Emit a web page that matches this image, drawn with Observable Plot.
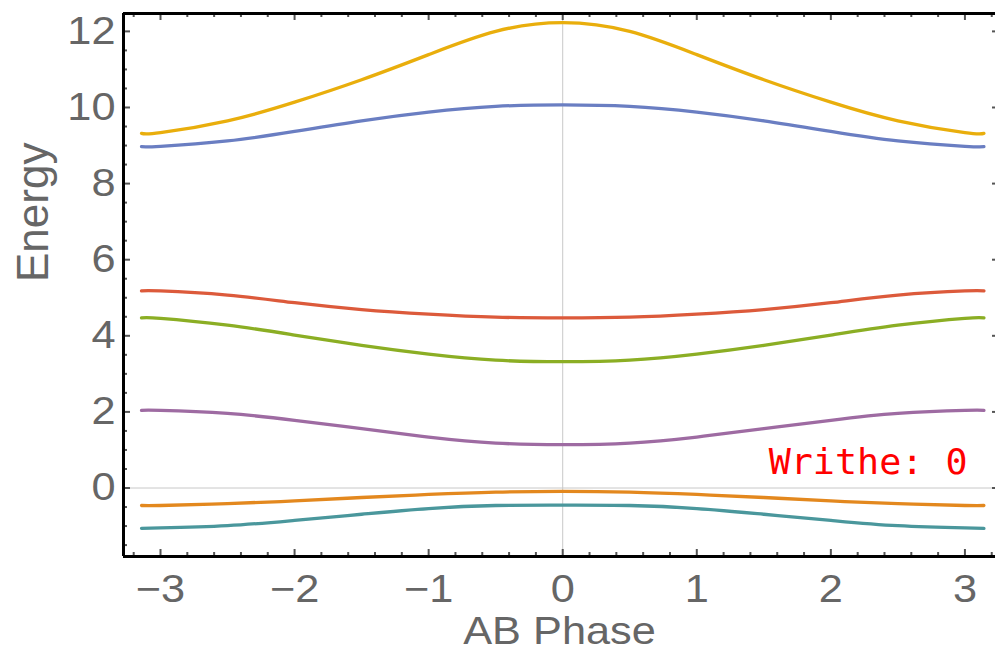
<!DOCTYPE html>
<html>
<head>
<meta charset="utf-8">
<script src="https://cdn.jsdelivr.net/npm/d3@7"></script>
<script src="https://cdn.jsdelivr.net/npm/@observablehq/plot@0.6"></script>
<style>
  html, body { margin: 0; padding: 0; background: #fff; }
  #chart svg { display: block; }
</style>
</head>
<body>
<div id="chart"></div>
<script>
// ---- data ----
const phase = [-3.1416, -3, -2.5, -2, -1.5, -1, -0.5, 0, 0.5, 1, 1.5, 2, 2.5, 3, 3.1416];
const bandYellow = [9.32, 9.34, 9.65, 10.14, 10.73, 11.39, 12.0, 12.23, 12.0, 11.39, 10.73, 10.14, 9.65, 9.34, 9.32];
const bandBlue   = [8.97, 8.98, 9.12, 9.37, 9.65, 9.88, 10.03, 10.07, 10.03, 9.88, 9.65, 9.37, 9.12, 8.98, 8.97];
const bandRed    = [5.18, 5.18, 5.07, 4.87, 4.69, 4.57, 4.49, 4.47, 4.49, 4.57, 4.69, 4.87, 5.07, 5.18, 5.18];
const bandGreen  = [4.47, 4.46, 4.28, 4.02, 3.75, 3.52, 3.36, 3.32, 3.36, 3.52, 3.75, 4.02, 4.28, 4.46, 4.47];
const bandPurple = [2.04, 2.04, 1.96, 1.78, 1.56, 1.34, 1.18, 1.14, 1.18, 1.34, 1.56, 1.78, 1.96, 2.04, 2.04];
const bandOrange = [-0.46, -0.46, -0.41, -0.34, -0.25, -0.17, -0.11, -0.09, -0.11, -0.17, -0.25, -0.34, -0.41, -0.46, -0.46];
const bandTeal   = [-1.06, -1.05, -0.99, -0.85, -0.69, -0.54, -0.46, -0.45, -0.46, -0.54, -0.69, -0.85, -0.99, -1.05, -1.06];

const seriesNames  = ["band 1", "band 2", "band 3", "band 4", "band 5", "band 6", "band 7"];
const seriesValues = [bandTeal, bandOrange, bandPurple, bandGreen, bandRed, bandBlue, bandYellow];
const seriesColors = ["#4A979C", "#E3881E", "#9E6BA2", "#8BAE24", "#DC5A3B", "#6A7EC2", "#E9AE0C"];

const xTicks = [-3, -2, -1, 0, 1, 2, 3];
const yTicks = [0, 2, 4, 6, 8, 10, 12];
const xMinor = d3.range(-16, 17).filter(i => i % 5 !== 0).map(i => i / 5);
const yMinor = d3.range(-3, 25).filter(i => i % 4 !== 0).map(i => i / 2);

const xDomain = [-3.276, 3.228];
const yDomain = [-1.8, 12.47];

const xLabel = "AB Phase";
const yLabel = "Energy";
const note = "Writhe: 0";
const noteX = 3.02, noteY = 0.68;

// ---- table ----
const rows = seriesNames.flatMap((s, k) => phase.map((p, i) => ({series: s, phase: p, energy: seriesValues[k][i]})));

// ---- layout ----
const W = 995, H = 666;
const mL = 123, mR = 0, mT = 13, mB = 110;
const plotW = W - mL - mR, plotH = H - mT - mB;
const major = 7, minor = 4;
const tickColor = "#555";
const fmt = d => (d < 0 ? "\u2212" : "") + Math.abs(d);

const svg = Plot.plot({
  width: W,
  height: H,
  marginLeft: mL,
  marginRight: mR,
  marginTop: mT,
  marginBottom: mB,
  style: {fontFamily: "'Liberation Sans', Arial, sans-serif", color: "#666", background: "#fff"},
  x: {domain: xDomain},
  y: {domain: yDomain},
  color: {domain: seriesNames, range: seriesColors},
  marks: [
    // zero axes
    Plot.ruleX([0], {stroke: "#c8c8c8", strokeWidth: 1}),
    Plot.ruleY([0], {stroke: "#c8c8c8", strokeWidth: 1}),
    // curves
    Plot.line(rows, {x: "phase", y: "energy", stroke: "series", z: "series", strokeWidth: 3.3, curve: "natural"}),
    // frame ticks: bottom
    Plot.ruleX(xTicks, {x: d => d, insetTop: plotH - major, stroke: tickColor, strokeWidth: 2}),
    Plot.ruleX(xMinor, {x: d => d, insetTop: plotH - minor, stroke: tickColor, strokeWidth: 2}),
    // top
    Plot.ruleX(xTicks, {x: d => d, insetBottom: plotH - major, stroke: tickColor, strokeWidth: 2}),
    Plot.ruleX(xMinor, {x: d => d, insetBottom: plotH - minor, stroke: tickColor, strokeWidth: 2}),
    // left
    Plot.ruleY(yTicks, {y: d => d, insetRight: plotW - major, stroke: tickColor, strokeWidth: 2}),
    Plot.ruleY(yMinor, {y: d => d, insetRight: plotW - minor, stroke: tickColor, strokeWidth: 2}),
    // right (frame lies just outside the picture)
    Plot.ruleY(yTicks, {y: d => d, insetLeft: plotW - 3, stroke: tickColor, strokeWidth: 2}),
    // frame
    Plot.ruleX([xDomain[0]], {stroke: "#000", strokeWidth: 3}),
    Plot.ruleY([yDomain[0], yDomain[1]], {stroke: "#000", strokeWidth: 3}),
    // axes labels
    Plot.axisX(xTicks, {anchor: "bottom", tickSize: 0, tickPadding: 19, fontSize: 38, label: null, tickFormat: fmt}),
    Plot.axisY(yTicks, {anchor: "left", tickSize: 0, tickPadding: 8, fontSize: 38, label: null, tickFormat: fmt}),
    Plot.text([xLabel], {frameAnchor: "bottom", lineAnchor: "middle", dy: 75, fontSize: 38, fill: "#666"}),
    Plot.text([yLabel], {frameAnchor: "left", lineAnchor: "middle", rotate: -90, dx: -90, dy: -3, fontSize: 44, fill: "#666"}),
    // annotation
    Plot.text([note], {x: () => noteX, y: () => noteY, textAnchor: "end", lineAnchor: "middle", fontSize: 36,
      fontFamily: "'DejaVu Sans Mono', monospace", fill: "#ff0000"})
  ]
});

// widen glyphs horizontally to match the reference's wide lettering
d3.select(svg).selectAll("text").each(function () {
  const txt = this.textContent;
  const s = txt === yLabel ? 1 : txt === note ? 1.02 : 1.14;
  if (s === 1) return;
  const t = this.getAttribute("transform") || "";
  if (/rotate/.test(t)) return;
  this.setAttribute("transform", `${t} scale(${s},1)`);
});

document.getElementById("chart").appendChild(svg);
</script>
</body>
</html>
